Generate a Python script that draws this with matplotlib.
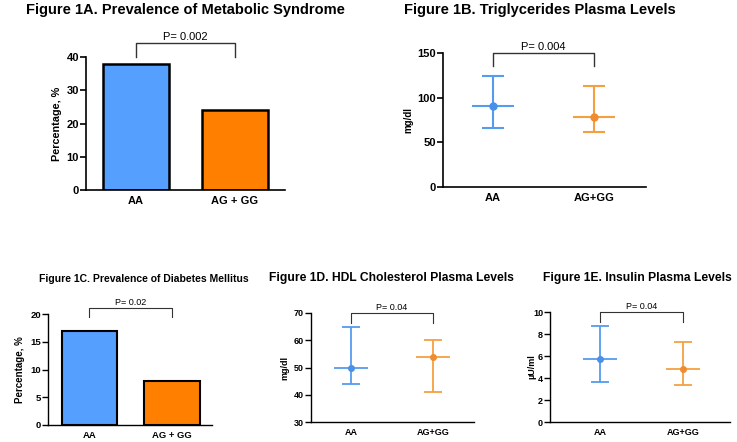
import matplotlib
matplotlib.use("Agg")
import matplotlib.pyplot as plt

plt.rcParams['font.family'] = ['Liberation Sans', 'DejaVu Sans']

W, H = 737, 442

# ---- data ----
groups_bar = ["AA", "AG + GG"]
groups_err = ["AA", "AG+GG"]

ms_pct = [38, 24]            # Fig 1A
dm_pct = [17, 8]             # Fig 1C

tg_mean = [91, 78]           # Fig 1B
tg_low = [66, 62]
tg_high = [124, 113]

hdl_mean = [50, 54]          # Fig 1D
hdl_low = [44, 41]
hdl_high = [65, 60]

ins_mean = [5.7, 4.8]        # Fig 1E
ins_low = [3.6, 3.4]
ins_high = [8.7, 7.3]

p_values = ["P= 0.002", "P= 0.004", "P= 0.02", "P= 0.04", "P= 0.04"]

BAR_COLORS = ["#559FFF", "#FF8000"]
ERR_COLORS = ["#559CEE", "#F5A040"]
MARK_COLORS = ["#4A90E8", "#F08C30"]

fig = plt.figure(figsize=(W / 100, H / 100), dpi=100)


def add_ax(left, right, top, bottom):
    return fig.add_axes([left / W, 1 - bottom / H, (right - left) / W, (bottom - top) / H])


def style(ax, ylim, yticks, xlim, tick_fs, spine_lw):
    ax.set_ylim(*ylim)
    ax.set_xlim(*xlim)
    ax.set_yticks(yticks)
    ax.spines['top'].set_visible(False)
    ax.spines['right'].set_visible(False)
    for s in ['left', 'bottom']:
        ax.spines[s].set_linewidth(spine_lw)
    ax.tick_params(axis='y', length=4, width=spine_lw, labelsize=tick_fs, pad=1)
    ax.tick_params(axis='x', length=0, labelsize=tick_fs, pad=4)
    for lab in ax.get_yticklabels() + ax.get_xticklabels():
        lab.set_fontweight('bold')


def bracket(ax, top, leg, text, fs, lw):
    ax.plot([0, 0, 1, 1], [leg, top, top, leg], color='#333333', lw=lw, clip_on=False)
    ax.annotate(text, xy=(0.5, top), xytext=(0, 1), textcoords='offset points',
                ha='center', va='bottom', fontsize=fs, annotation_clip=False)


def errplot(ax, means, lows, highs, mean_hw, cap_hw, lw, ms):
    for i, (m, lo, hi) in enumerate(zip(means, lows, highs)):
        c = ERR_COLORS[i]
        ax.vlines(i, lo, hi, color=c, lw=lw)
        ax.hlines([lo, hi], i - cap_hw, i + cap_hw, color=c, lw=lw)
        ax.hlines(m, i - mean_hw, i + mean_hw, color=c, lw=lw)
        ax.plot([i], [m], 'o', color=MARK_COLORS[i], ms=ms)


# ---- Figure 1A ----
axA = add_ax(86, 285, 57, 190)
axA.bar([0, 1], ms_pct, width=0.667, color=BAR_COLORS, edgecolor='black', linewidth=1.8)
axA.set_xticks([0, 1])
axA.set_xticklabels(groups_bar)
style(axA, (0, 40), [0, 10, 20, 30, 40], (-0.505, 1.505), 8, 1.2)
axA.set_ylabel("Percentage, %", fontsize=7.8, fontweight='bold')
axA.yaxis.set_label_coords(-0.121, 0.5)
bracket(axA, 44.2, 40, p_values[0], 8, 1.0)
fig.text(185 / W, 1 - 10 / H, "Figure 1A. Prevalence of Metabolic Syndrome",
         ha='center', va='center', fontsize=10.5, fontweight='bold')

# ---- Figure 1B ----
axB = add_ax(443, 646, 53, 187)
errplot(axB, tg_mean, tg_low, tg_high, 0.21, 0.105, 1.5, 5)
axB.set_xticks([0, 1])
axB.set_xticklabels(groups_err)
style(axB, (0, 150), [0, 50, 100, 150], (-0.495, 1.515), 8, 1.2)
axB.set_ylabel("mg/dl", fontsize=7, fontweight='bold')
axB.yaxis.set_label_coords(-0.148, 0.5)
bracket(axB, 150, 136, p_values[1], 8, 1.0)
fig.text(540 / W, 1 - 10 / H, "Figure 1B. Triglycerides Plasma Levels",
         ha='center', va='center', fontsize=10.5, fontweight='bold')

# ---- Figure 1C ----
axC = add_ax(48, 212, 314, 425)
axC.bar([0, 1], dm_pct, width=0.667, color=BAR_COLORS, edgecolor='black', linewidth=1.5)
axC.set_xticks([0, 1])
axC.set_xticklabels(groups_bar)
style(axC, (0, 20), [0, 5, 10, 15, 20], (-0.503, 1.485), 6.8, 1.0)
axC.set_ylabel("Percentage, %", fontsize=7, fontweight='bold')
axC.yaxis.set_label_coords(-0.14, 0.5)
bracket(axC, 21.1, 19.5, p_values[2], 6.5, 0.8)
fig.text(144 / W, 1 - 279 / H, "Figure 1C. Prevalence of Diabetes Mellitus",
         ha='center', va='center', fontsize=7.5, fontweight='bold')

# ---- Figure 1D ----
axD = add_ax(311, 474, 313, 422)
errplot(axD, hdl_mean, hdl_low, hdl_high, 0.21, 0.105, 1.3, 4)
axD.set_xticks([0, 1])
axD.set_xticklabels(groups_err)
style(axD, (30, 70), [30, 40, 50, 60, 70], (-0.488, 1.5), 6.5, 1.0)
axD.set_ylabel("mg/dl", fontsize=6.5, fontweight='bold')
axD.yaxis.set_label_coords(-0.135, 0.5)
bracket(axD, 70, 66.3, p_values[3], 6.5, 0.8)
fig.text(391 / W, 1 - 278 / H, "Figure 1D. HDL Cholesterol Plasma Levels",
         ha='center', va='center', fontsize=8.7, fontweight='bold')

# ---- Figure 1E ----
axE = add_ax(550, 730, 312, 422)
errplot(axE, ins_mean, ins_low, ins_high, 0.21, 0.105, 1.3, 4)
axE.set_xticks([0, 1])
axE.set_xticklabels(groups_err)
style(axE, (0, 10), [0, 2, 4, 6, 8, 10], (-0.602, 1.566), 6.5, 1.0)
axE.set_ylabel("µU/ml", fontsize=6.5, fontweight='bold')
axE.yaxis.set_label_coords(-0.075, 0.5)
bracket(axE, 10, 9.1, p_values[4], 6.5, 0.8)
fig.text(637 / W, 1 - 278 / H, "Figure 1E. Insulin Plasma Levels",
         ha='center', va='center', fontsize=8.7, fontweight='bold')

fig.savefig("out.png", dpi=100)
